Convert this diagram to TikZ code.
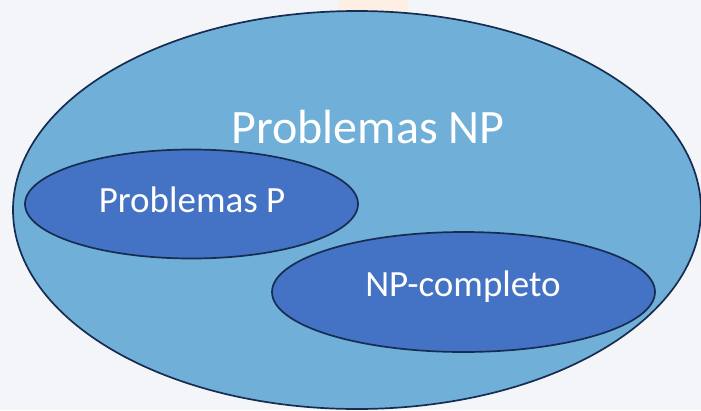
\documentclass[tikz,border=0pt]{standalone}
\usepackage{fontspec}
\setmainfont{Carlito}
\definecolor{bgcol}{HTML}{F4F5F8}
\definecolor{npfill}{HTML}{70B0D8}
\definecolor{subfill}{HTML}{4472C4}
\definecolor{edgecol}{HTML}{172C51}
\definecolor{peach}{HTML}{FDEFE3}
\begin{document}
\begin{tikzpicture}[x=1pt,y=-1pt,
  setline/.style={draw=edgecol, line width=1.7pt},
  label/.style={text=white, inner sep=0pt, anchor=base}]
\fill[bgcol] (0,0) rectangle (701,410);
\useasboundingbox (0,0) rectangle (701,410);
\fill[peach, rounded corners=8pt] (338,-10) rectangle (408,16);
\draw[fill=npfill, setline] (357,210) ellipse [x radius=344, y radius=199];
\node[label, font=\fontsize{48}{50}\selectfont] (np) at (368,143) {Problemas NP};
\draw[fill=subfill, setline] (191.5,204) ellipse [x radius=166.5, y radius=54.5];
\node[label, font=\fontsize{37}{40}\selectfont] (p) at (192,212) {Problemas P};
\draw[fill=subfill, setline] (463.5,292) ellipse [x radius=191.5, y radius=60];
\node[label, font=\fontsize{37}{40}\selectfont] (npc) at (463,296) {NP-completo};
\end{tikzpicture}
\end{document}
